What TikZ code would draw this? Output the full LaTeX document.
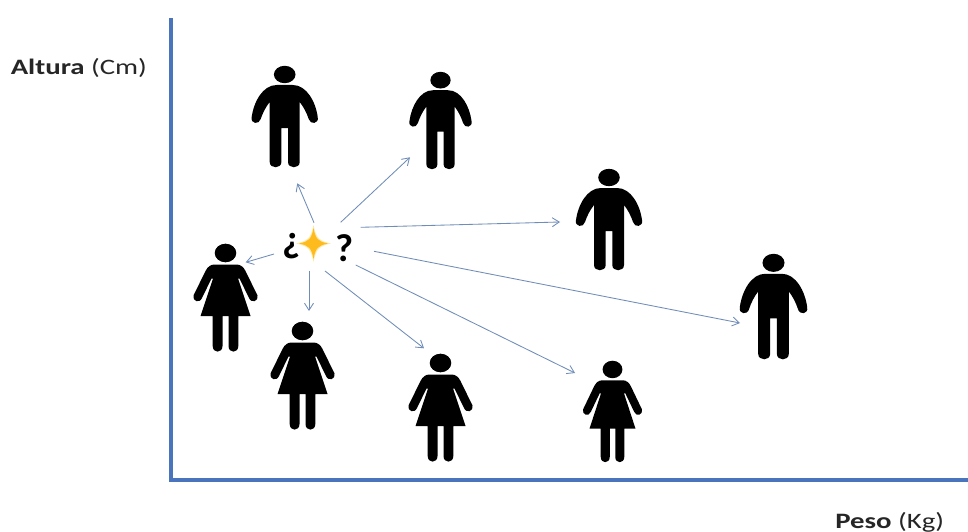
\documentclass[tikz,border=0pt]{standalone}
\usepackage{fontspec}
\setmainfont{Carlito}
\usetikzlibrary{arrows.meta}
\definecolor{axisblue}{HTML}{4A74BC}
\definecolor{rayblue}{HTML}{6F8DB8}
\definecolor{stargold}{HTML}{FDBB1E}
\definecolor{starglow}{HTML}{FFE9A8}
\tikzset{
  axisline/.style={draw=axisblue,line width=4pt},
  ray/.style={draw=rayblue,line width=0.85pt,-{Straight Barb[length=7pt,width=9pt,line width=0.85pt]}},
  label/.style={inner sep=0pt,font=\fontsize{22}{24}\selectfont,text=black!85,xscale=1.31,transform shape},
  mark text/.style={inner sep=0pt,font=\bfseries\fontsize{39}{42}\selectfont,text=black},
  figure fill/.style={fill=black,draw=none}
}
% #1 centre x, #2 top y, #3 width scale, #4 height scale
\newcommand{\manfig}[4]{%
  \begin{scope}[shift={(#1,#2)},xscale=#3,yscale=#4]
    \fill[figure fill] (0,8.5) ellipse [x radius=10.8,y radius=8.7];
    \fill[figure fill] (-3.3,62) -- (-3.3,96) .. controls (-3.3,103) and (-15,103) .. (-15,96)
      -- (-15,36) .. controls (-19,41) and (-22,47) .. (-24,53)
      .. controls (-25.5,59) and (-34.5,58) .. (-33,51)
      .. controls (-31,36) and (-22,19) .. (-8,19) -- (8,19)
      .. controls (22,19) and (31,36) .. (33,51)
      .. controls (34.5,58) and (25.5,59) .. (24,53)
      .. controls (22,47) and (19,41) .. (15,36) -- (15,96)
      .. controls (15,103) and (3.3,103) .. (3.3,96) -- (3.3,62) -- cycle;
  \end{scope}}
\newcommand{\womanfig}[4]{%
  \begin{scope}[shift={(#1,#2)},xscale=#3,yscale=#4]
    \fill[figure fill] (0,9) ellipse [x radius=10.8,y radius=9.3];
    \fill[figure fill] (-3,72) -- (-3,102) .. controls (-3,109.5) and (-12.8,109.5) .. (-12.8,102)
      -- (-12.8,72) -- (-25,72) -- (-12.5,34.5) -- (-14,34.5) -- (-23.5,54)
      .. controls (-26,60) and (-33.5,57) .. (-32,51.5)
      -- (-20,27) .. controls (-18,23) and (-15,20.5) .. (-11,20.5) -- (11,20.5)
      .. controls (15,20.5) and (18,23) .. (20,27) -- (32,51.5)
      .. controls (33.5,57) and (26,60) .. (23.5,54)
      -- (14,34.5) -- (12.5,34.5) -- (25,72) -- (12.8,72) -- (12.8,102)
      .. controls (12.8,109.5) and (3,109.5) .. (3,102) -- (3,72) -- cycle;
  \end{scope}}
\begin{document}
\begin{tikzpicture}[x=1pt,y=-1pt]
\useasboundingbox (0,0) rectangle (968,532);
\fill[white] (0,0) rectangle (968,532);
% axes
\coordinate (ytop) at (170.7,18);
\coordinate (origin) at (170.7,480);
\coordinate (xend) at (968,480);
\draw[axisline,line join=miter] (ytop) -- (origin) -- (xend);
% labels
\node[label,anchor=base west] (alt) at (10.5,75) {\textbf{Altura} (Cm)};
\node[label,anchor=base west] (pes) at (835,528) {\textbf{Peso} (Kg)};
% people
\manfig{284.7}{66}{1}{1}
\manfig{440.5}{72}{0.94}{0.96}
\manfig{609}{169}{1}{1}
\manfig{773.5}{254}{1.02}{1.04}
\womanfig{225.5}{244}{1}{1}
\womanfig{302.5}{322}{1}{1}
\womanfig{440.5}{354}{1}{1}
\womanfig{612.5}{361}{0.92}{0.94}
% star
\fill[starglow] (313.5,225) .. controls (316,238) and (319,241) .. (331,243.5)
  .. controls (319,246) and (316,249) .. (313.5,262)
  .. controls (311,249) and (308,246) .. (296,243.5)
  .. controls (308,241) and (311,238) .. (313.5,225) -- cycle;
\fill[stargold] (313.5,228) .. controls (315.5,239) and (318,241.5) .. (328,243.5)
  .. controls (318,245.5) and (315.5,248) .. (313.5,259)
  .. controls (311.5,248) and (309,245.5) .. (299,243.5)
  .. controls (309,241.5) and (311.5,239) .. (313.5,228) -- cycle;
\node[mark text] (qopen) at (292,246) {¿};
\node[mark text] (qclose) at (345,248.5) {?};
% arrows
\coordinate (s1) at (314,222.7);   \coordinate (e1) at (297.3,183.3);
\coordinate (s2) at (340.7,222.3); \coordinate (e2) at (410,157.3);
\coordinate (s3) at (360.7,227.3); \coordinate (e3) at (560,222);
\coordinate (s4) at (374,251.3);   \coordinate (e4) at (740,323);
\coordinate (s5) at (355.7,265);   \coordinate (e5) at (575,373);
\coordinate (s6) at (325,271);     \coordinate (e6) at (424,348.3);
\coordinate (s7) at (309,270.7);   \coordinate (e7) at (309,311);
\coordinate (s8) at (274,254);     \coordinate (e8) at (245.7,262.3);
\foreach \i in {1,...,8} \draw[ray] (s\i) -- (e\i);
\end{tikzpicture}
\end{document}
